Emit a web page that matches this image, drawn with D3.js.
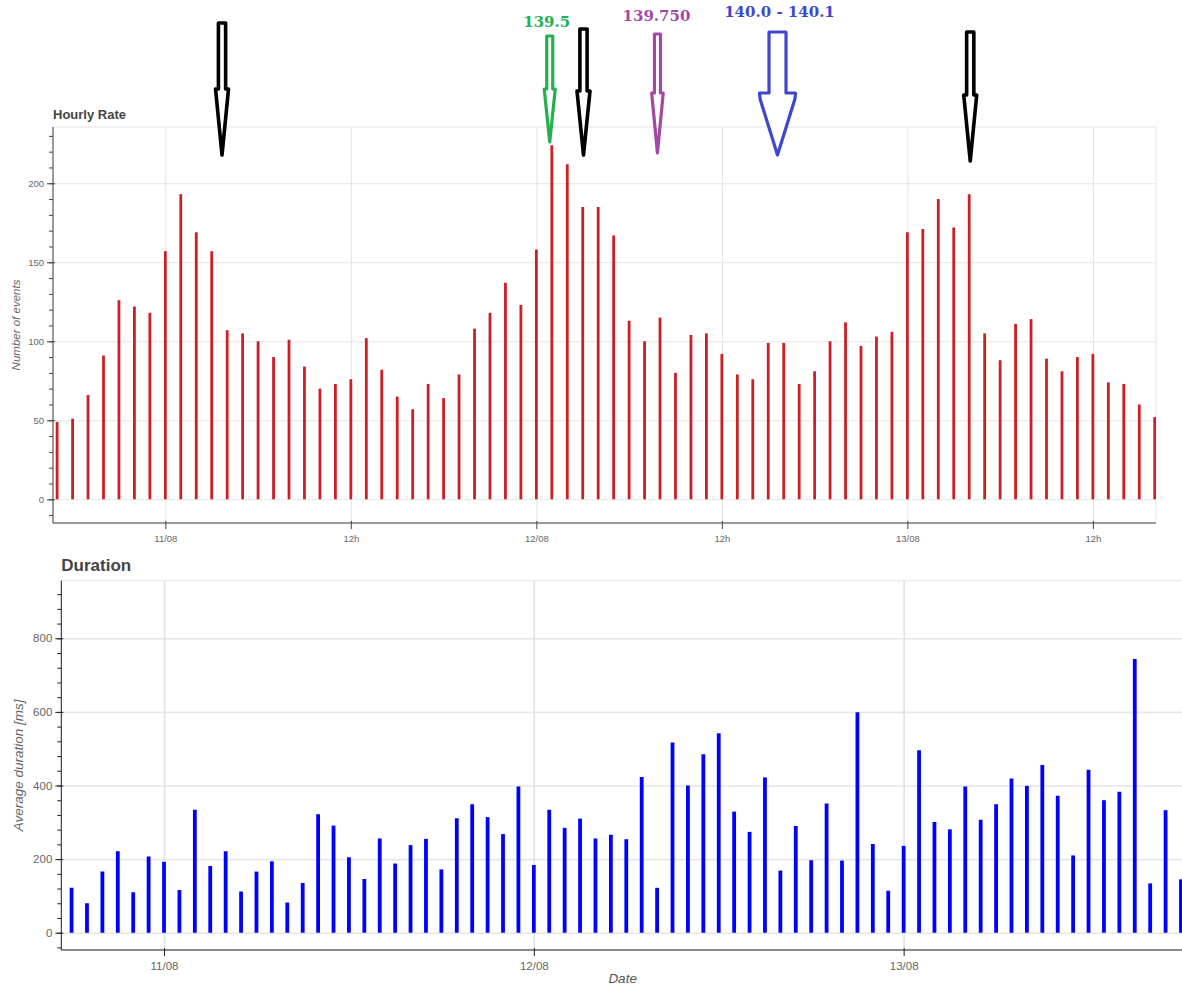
<!DOCTYPE html>
<html>
<head>
<meta charset="utf-8">
<script src="https://cdn.jsdelivr.net/npm/d3@7"></script>
<style>
  body { margin: 0; background: #fff; }
  svg { display: block; }
  text { font-family: "Liberation Sans", Arial, Helvetica, sans-serif; }
</style>
</head>
<body>
<svg id="chart" width="1182" height="989"></svg>
<script>
// ---- data -------------------------------------------------------------
// Hourly event counts, first bucket 10/08 17:00
const rateStart = Date.UTC(2016, 7, 10, 17);
const rateCounts = [
  49, 51, 66, 91, 126, 122, 118,
  157, 193, 169, 157, 107, 105, 100, 90, 101, 84, 70, 73, 76, 102, 82, 65, 57, 73, 64, 79, 108, 118, 137, 123,
  158, 224, 212, 185, 185, 167, 113, 100, 115, 80, 104, 105, 92, 79, 76, 99, 99, 73, 81, 100, 112, 97, 103, 106,
  169, 171, 190, 172, 193, 105, 88, 111, 114, 89, 81, 90, 92, 74, 73, 60, 52
];

// Average duration per hour in ms, first bucket 10/08 18:00
const durationStart = Date.UTC(2016, 7, 10, 18);
const durationMs = [
  122, 80, 166, 221, 110, 207,
  193, 116, 334, 181, 221, 112, 166, 194, 82, 135, 322, 291, 205, 146, 256, 188, 238, 255, 172, 311, 349, 314, 268, 397,
  184, 334, 285, 310, 256, 266, 254, 423, 122, 517, 400, 485, 542, 329, 274, 422, 169, 290, 197, 351, 196, 599, 241, 114,
  236, 496, 301, 281, 397, 307, 349, 419, 399, 456, 372, 210, 443, 360, 383, 744, 134, 333, 145
];

// Axis extents
const rateDomainX = [Date.UTC(2016, 7, 10, 16, 44), Date.UTC(2016, 7, 13, 16, 5)];
const rateDomainY = [-15, 235.6];
const rateMajorY = [0, 50, 100, 150, 200];
const durationDomainX = [Date.UTC(2016, 7, 10, 17, 20), Date.UTC(2016, 7, 13, 19, 14)];
const durationDomainY = [-47, 956.5];
const durationMajorY = [0, 200, 400, 600, 800];

// Price markers written over the rate panel
const markerTimes = [
  Date.UTC(2016, 7, 11, 3, 40),
  Date.UTC(2016, 7, 12, 0, 52),
  Date.UTC(2016, 7, 12, 3, 3),
  Date.UTC(2016, 7, 12, 7, 50),
  Date.UTC(2016, 7, 12, 15, 36),
  Date.UTC(2016, 7, 13, 4, 4)
];
const markerLabels = ["", "139.5", "", "139.750", "140.0 - 140.1", ""];

// ---- helpers ----------------------------------------------------------
const HOUR = 3600 * 1000;
const svg = d3.select("#chart");
svg.append("rect").attr("width", 1182).attr("height", 989).attr("fill", "#fff");

const fmtDay = d3.utcFormat("%d/%m");
const fmtHour = d3.utcFormat("%Hh");
const timeLabel = d => d.getUTCHours() === 0 ? fmtDay(d) : fmtHour(d);

function panel(opt) {
  const x = d3.scaleUtc().domain(opt.domainX.map(t => new Date(t))).range([opt.left, opt.right]);
  const y = d3.scaleLinear().domain(opt.domainY).range([opt.bottom, opt.top]);
  const g = svg.append("g");
  const xTicks = x.ticks(opt.xInterval);

  // outline
  g.append("rect")
    .attr("x", opt.left).attr("y", opt.top)
    .attr("width", opt.right - opt.left).attr("height", opt.bottom - opt.top)
    .attr("fill", "none").attr("stroke", "#e4e4e4").attr("stroke-width", 1);

  // grid
  const grid = g.append("g");
  grid.append("g")
    .attr("transform", `translate(${opt.left},0)`)
    .call(d3.axisLeft(y).tickValues(opt.majorY).tickSize(-(opt.right - opt.left)).tickFormat(""))
    .call(s => s.select(".domain").remove())
    .call(s => s.selectAll(".tick line").attr("stroke", "#e6e6e6").attr("stroke-width", opt.gridWidth));
  grid.append("g")
    .attr("transform", `translate(0,${opt.bottom})`)
    .call(d3.axisBottom(x).tickValues(xTicks).tickSize(-(opt.bottom - opt.top)).tickFormat(""))
    .call(s => s.select(".domain").remove())
    .call(s => s.selectAll(".tick line").attr("stroke", "#e2e2e2").attr("stroke-width", opt.gridWidth));

  // bars
  const clipId = "clip" + opt.id;
  svg.append("clipPath").attr("id", clipId).append("rect")
    .attr("x", opt.left).attr("y", opt.top)
    .attr("width", opt.right - opt.left).attr("height", opt.bottom - opt.top);
  const data = opt.values.map((v, i) => ({ t: new Date(opt.start + i * HOUR), v }));
  g.append("g").attr("clip-path", `url(#${clipId})`)
    .selectAll("line").data(data).join("line")
    .attr("x1", d => x(d.t)).attr("x2", d => x(d.t))
    .attr("y1", y(0)).attr("y2", d => y(d.v))
    .attr("stroke", opt.barColor).attr("stroke-width", opt.barWidth);

  // y axis: minor then major ticks
  g.append("g")
    .attr("transform", `translate(${opt.left},0)`)
    .call(d3.axisLeft(y).tickValues(d3.range(opt.minorFrom, opt.domainY[1], opt.minorStep)).tickSize(4).tickFormat(""))
    .call(s => s.select(".domain").remove())
    .call(s => s.selectAll(".tick line").attr("stroke", opt.axisColor));
  g.append("g")
    .attr("transform", `translate(${opt.left},0)`)
    .call(d3.axisLeft(y).tickValues(opt.majorY).tickSize(6).tickPadding(3))
    .call(s => s.select(".domain").attr("stroke", opt.axisColor).attr("d", `M0,${opt.top}V${opt.bottom}`))
    .call(s => s.selectAll(".tick line").attr("x1", 2).attr("stroke", opt.axisColor))
    .call(s => s.selectAll(".tick text")
      .attr("fill", "#666").attr("font-size", opt.tickFont)
      .attr("font-family", '"Liberation Sans", Arial, sans-serif'));

  // x axis
  g.append("g")
    .attr("transform", `translate(0,${opt.bottom})`)
    .call(d3.axisBottom(x).tickValues(xTicks).tickSize(6).tickPadding(opt.xPad).tickFormat(timeLabel))
    .call(s => s.select(".domain").attr("stroke", opt.axisColor).attr("d", `M${opt.left},0H${opt.right}`))
    .call(s => s.selectAll(".tick line").attr("y1", -2).attr("stroke", opt.axisColor))
    .call(s => s.selectAll(".tick text")
      .attr("fill", "#666").attr("font-size", opt.tickFont)
      .attr("font-family", '"Liberation Sans", Arial, sans-serif'));

  // title
  svg.append("text")
    .attr("x", opt.left).attr("y", opt.titleY)
    .attr("font-size", opt.titleFont).attr("font-weight", "bold").attr("fill", "#444")
    .text(opt.title);

  // y label
  svg.append("text")
    .attr("transform", `translate(${opt.yLabelX},${(opt.top + opt.bottom) / 2}) rotate(-90)`)
    .attr("text-anchor", "middle").attr("font-style", "italic")
    .attr("font-size", opt.yLabelFont).attr("fill", "#666")
    .text(opt.yLabel);

  return { x, y };
}

// ---- hourly rate panel ----------------------------------------------------
const ratePanel = panel({
  id: "rate", left: 53, right: 1156, top: 127, bottom: 523,
  domainX: rateDomainX, domainY: rateDomainY, majorY: rateMajorY,
  minorFrom: -10, minorStep: 10, xInterval: d3.utcHour.every(12),
  start: rateStart, values: rateCounts,
  barColor: "#cc1f26", barWidth: 2.8, axisColor: "#444", gridWidth: 1,
  tickFont: "9.5px", xPad: 6,
  title: "Hourly Rate", titleY: 119, titleFont: "13px",
  yLabel: "Number of events", yLabelX: 20, yLabelFont: "11.5px"
});

// ---- duration panel ----------------------------------------------------
const durationPanel = panel({
  id: "dur", left: 61.3, right: 1200, top: 580.7, bottom: 950,
  domainX: durationDomainX, domainY: durationDomainY, majorY: durationMajorY,
  minorFrom: -40, minorStep: 40, xInterval: d3.utcDay.every(1),
  start: durationStart, values: durationMs,
  barColor: "#0000ff", barWidth: 3.8, axisColor: "#222", gridWidth: 1.6,
  tickFont: "11.5px", xPad: 6,
  title: "Duration", titleY: 571, titleFont: "17px",
  yLabel: "Average duration [ms]", yLabelX: 23, yLabelFont: "13.5px"
});

svg.append("text")
  .attr("x", (61.3 + 1182) / 2 + 1).attr("y", 983)
  .attr("text-anchor", "middle").attr("font-style", "italic")
  .attr("font-size", "13.5px").attr("fill", "#555")
  .text("Date");

// ---- price markers -------------------------------------------------------
const markerShape = [
  { color: "#000000", top: 23, head: 89, tip: 155, shaft: 3.6, wing: 6.5, stroke: 3.6, labelY: 0, dx: 0 },
  { color: "#22b14c", top: 36, head: 89, tip: 142, shaft: 3.0, wing: 5.5, stroke: 3.2, labelY: 27, dx: -3 },
  { color: "#000000", top: 29, head: 91, tip: 155, shaft: 3.6, wing: 6.5, stroke: 3.6, labelY: 0, dx: 0 },
  { color: "#a349a4", top: 34, head: 93, tip: 153, shaft: 3.0, wing: 5.8, stroke: 3.2, labelY: 21, dx: -1 },
  { color: "#3f48cc", top: 32, head: 93, tip: 155, shaft: 8.5, wing: 18, stroke: 3.2, labelY: 17, dx: 2 },
  { color: "#000000", top: 32, head: 95, tip: 161, shaft: 3.6, wing: 6.5, stroke: 3.6, labelY: 0, dx: 0 }
];

const markers = svg.append("g");
markerTimes.forEach((t, i) => {
  const s = markerShape[i];
  const cx = ratePanel.x(new Date(t));
  const p = d3.path();
  p.moveTo(cx - s.shaft, s.top);
  p.lineTo(cx + s.shaft, s.top);
  p.lineTo(cx + s.shaft, s.head);
  p.lineTo(cx + s.wing, s.head);
  p.lineTo(cx + s.wing - 0.6, s.head + 6);
  p.lineTo(cx, s.tip);
  p.lineTo(cx - s.wing + 0.6, s.head + 6);
  p.lineTo(cx - s.wing, s.head);
  p.lineTo(cx - s.shaft, s.head);
  p.closePath();
  markers.append("path")
    .attr("d", p.toString())
    .attr("fill", "#fff").attr("stroke", s.color)
    .attr("stroke-width", s.stroke).attr("stroke-linejoin", "round");
  if (markerLabels[i]) {
    markers.append("text")
      .attr("x", cx + s.dx).attr("y", s.labelY)
      .attr("text-anchor", "middle")
      .style("font-family", '"DejaVu Serif", serif')
      .attr("font-weight", "bold").attr("font-size", "15px")
      .attr("fill", s.color)
      .text(markerLabels[i]);
  }
});
</script>
</body>
</html>
